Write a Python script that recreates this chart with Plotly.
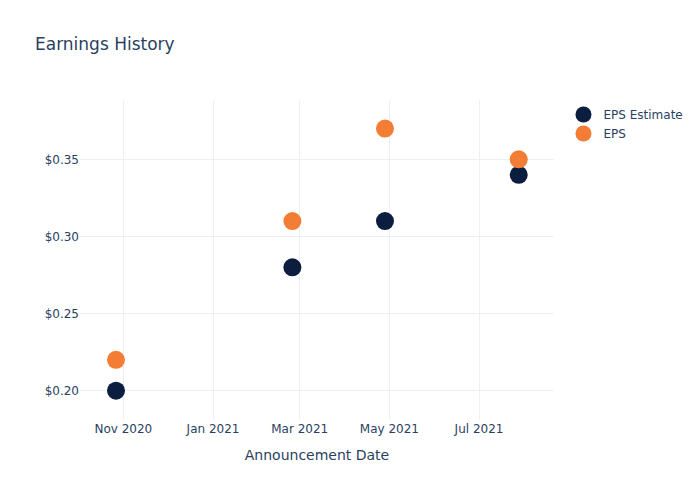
import plotly.graph_objects as go

dates = ["2020-10-27", "2021-02-24", "2021-04-28", "2021-07-28"]
eps_estimate = [0.20, 0.28, 0.31, 0.34]
eps_actual = [0.22, 0.31, 0.37, 0.35]

fig = go.Figure()
fig.add_trace(go.Scatter(x=dates, y=eps_estimate, mode="markers", name="EPS Estimate",
                         marker=dict(color="#0b1e3f", size=18)))
fig.add_trace(go.Scatter(x=dates, y=eps_actual, mode="markers", name="EPS",
                         marker=dict(color="#f47d36", size=18)))
fig.update_layout(
    template="plotly_white",
    width=700, height=500,
    title=dict(text="Earnings History"),
    font=dict(family="DejaVu Sans"),
    xaxis=dict(title=dict(text="Announcement Date"), tickformat="%b %Y", dtick="M2",
               range=["2020-10-02 12:00", "2021-08-21"]),
    yaxis=dict(tickprefix="$", tickformat=".2f", dtick=0.05, range=[0.181, 0.3885]),
)
fig.write_html("out.html")
